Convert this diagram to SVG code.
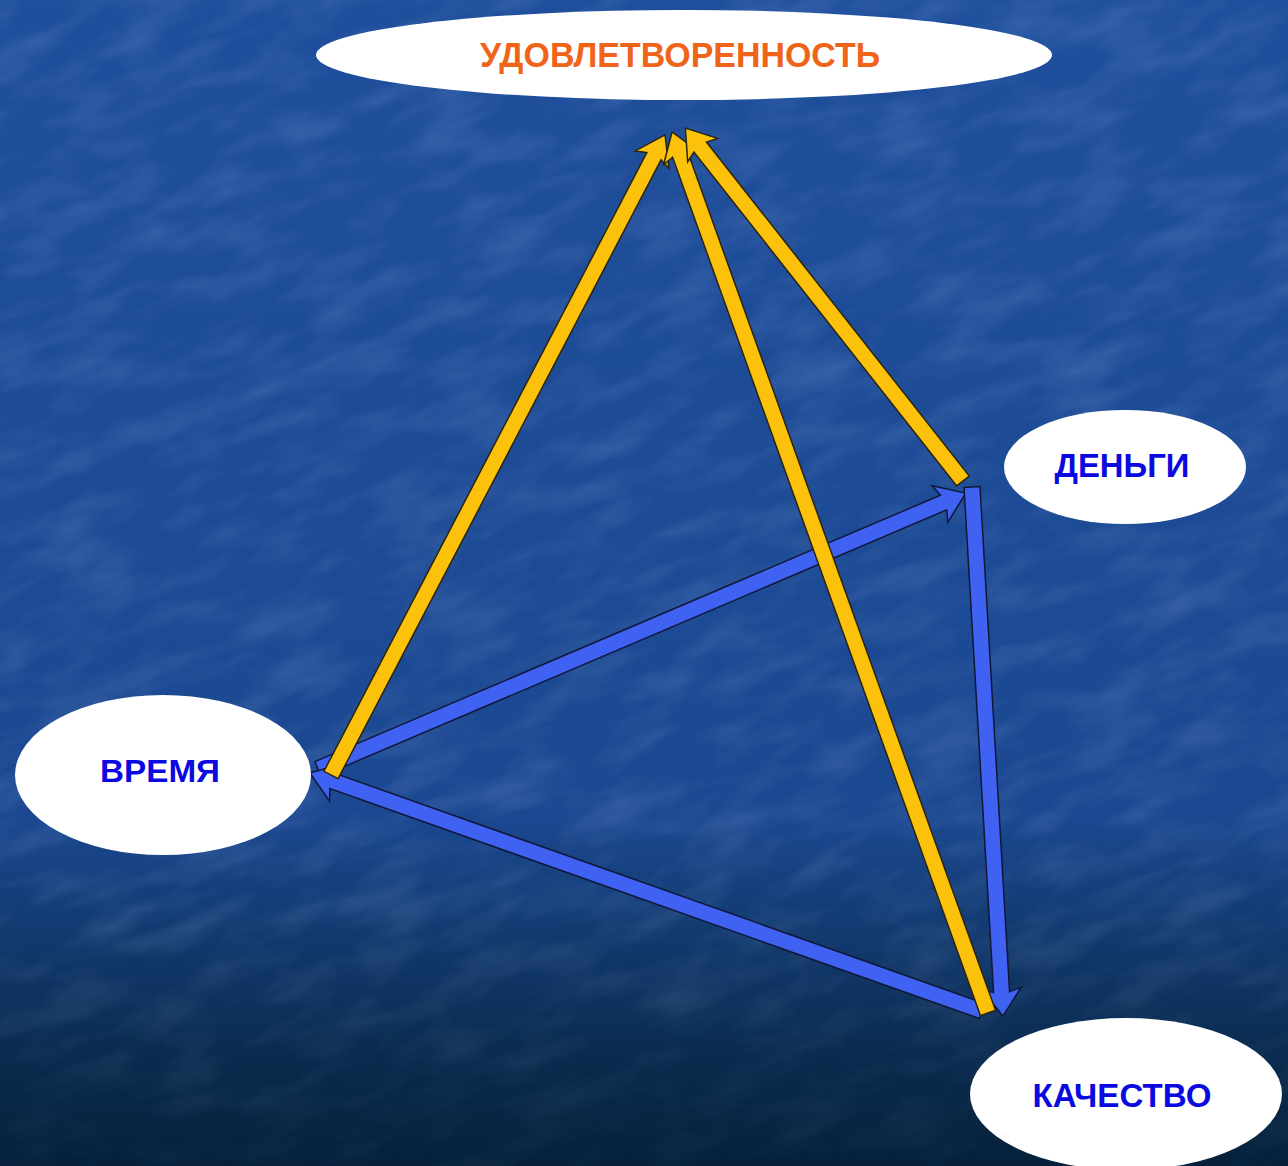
<svg xmlns="http://www.w3.org/2000/svg" width="1288" height="1166" viewBox="0 0 1288 1166">
  <defs>
    <linearGradient id="bg" x1="0" y1="0" x2="0" y2="1">
      <stop offset="0" stop-color="#1f4f9c"/>
      <stop offset="0.70" stop-color="#1b4891"/>
      <stop offset="0.80" stop-color="#123a70"/>
      <stop offset="0.90" stop-color="#0b2c50"/>
      <stop offset="1" stop-color="#06203a"/>
    </linearGradient>
    <linearGradient id="fade" x1="0" y1="0" x2="0" y2="1">
      <stop offset="0" stop-color="#fff" stop-opacity="1"/>
      <stop offset="0.75" stop-color="#fff" stop-opacity="1"/>
      <stop offset="1" stop-color="#fff" stop-opacity="0.3"/>
    </linearGradient>
    <mask id="fm">
      <rect x="0" y="0" width="1288" height="1166" fill="url(#fade)"/>
    </mask>
    <filter id="tex" x="0" y="0" width="100%" height="100%">
      <feTurbulence type="fractalNoise" baseFrequency="0.012 0.035" numOctaves="3" seed="4" result="n"/>
      <feColorMatrix in="n" type="matrix" values="0 0 0 0 0.55  0 0 0 0 0.7  0 0 0 0 1  0 0 0 1.4 -0.55"/>
    </filter>
    <style>
      .node { fill: #ffffff; }
      .lbl { font-family: "Liberation Sans", Arial, sans-serif; font-weight: bold; text-anchor: middle; }
      .blue { fill: #0a0ae0; }
      .orange { fill: #f0641a; }
      .ya { fill: #fcc10a; stroke: #2a2410; stroke-width: 1.5; stroke-linejoin: miter; }
      .ba { fill: #3f62f2; stroke: #101838; stroke-width: 1.5; stroke-linejoin: miter; }
    </style>
  </defs>

  <rect x="0" y="0" width="1288" height="1166" fill="url(#bg)"/>
  <g mask="url(#fm)">
    <rect x="-700" y="-700" width="2700" height="2600" filter="url(#tex)" opacity="0.2" transform="rotate(-20 644 583)"/>
  </g>

  <g id="connectors">
    <!-- blue: ВРЕМЯ -> ДЕНЬГИ -->
    <g id="b1" transform="translate(318,769) rotate(-23.07)">
      <path class="ba" d="M0,-8 L680,-8 L676,-20 L704,0 L676,20 L680,8 L0,8 Z"/>
    </g>
    <!-- blue: ДЕНЬГИ -> КАЧЕСТВО -->
    <g id="b2" transform="translate(972,487) rotate(86.65)">
      <path class="ba" d="M0,-8 L506,-8 L502,-20 L530,0 L502,20 L506,8 L0,8 Z"/>
    </g>
    <!-- blue: КАЧЕСТВО -> ВРЕМЯ -->
    <g id="b3" transform="translate(982,1011) rotate(-160.5)">
      <path class="ba" d="M0,-8 L689,-8 L685,-20 L713,0 L685,20 L689,8 L0,8 Z"/>
    </g>
    <!-- yellow: ВРЕМЯ -> УДОВЛЕТВОРЕННОСТЬ -->
    <g id="y1" transform="translate(331,775) rotate(-62.44)">
      <path class="ya" d="M0,-8 L698,-8 L694,-19 L722,0 L694,19 L698,8 L0,8 Z"/>
    </g>
    <!-- yellow: КАЧЕСТВО -> УДОВЛЕТВОРЕННОСТЬ -->
    <g id="y2" transform="translate(988,1013) rotate(-109.73)">
      <path class="ya" d="M0,-8 L912,-8 L908,-19 L936,0 L908,19 L912,8 L0,8 Z"/>
    </g>
    <!-- yellow: ДЕНЬГИ -> УДОВЛЕТВОРЕННОСТЬ -->
    <g id="y3" transform="translate(963,481) rotate(-128.2)">
      <path class="ya" d="M0,-8 L425,-8 L421,-19 L449,0 L421,19 L425,8 L0,8 Z"/>
    </g>
  </g>

  <g id="node-satisfaction">
    <ellipse class="node" cx="684" cy="55" rx="368" ry="45"/>
    <text class="lbl orange" x="680" y="67" font-size="35" textLength="400" lengthAdjust="spacingAndGlyphs">УДОВЛЕТВОРЕННОСТЬ</text>
  </g>
  <g id="node-money">
    <ellipse class="node" cx="1125" cy="467" rx="121" ry="57"/>
    <text class="lbl blue" x="1122" y="477" font-size="33" textLength="135" lengthAdjust="spacingAndGlyphs">ДЕНЬГИ</text>
  </g>
  <g id="node-time">
    <ellipse class="node" cx="163" cy="775" rx="148" ry="80"/>
    <text class="lbl blue" x="160" y="782" font-size="32" textLength="120" lengthAdjust="spacingAndGlyphs">ВРЕМЯ</text>
  </g>
  <g id="node-quality">
    <ellipse class="node" cx="1126" cy="1094" rx="156" ry="76"/>
    <text class="lbl blue" x="1122" y="1107" font-size="33" textLength="179" lengthAdjust="spacingAndGlyphs">КАЧЕСТВО</text>
  </g>
</svg>
